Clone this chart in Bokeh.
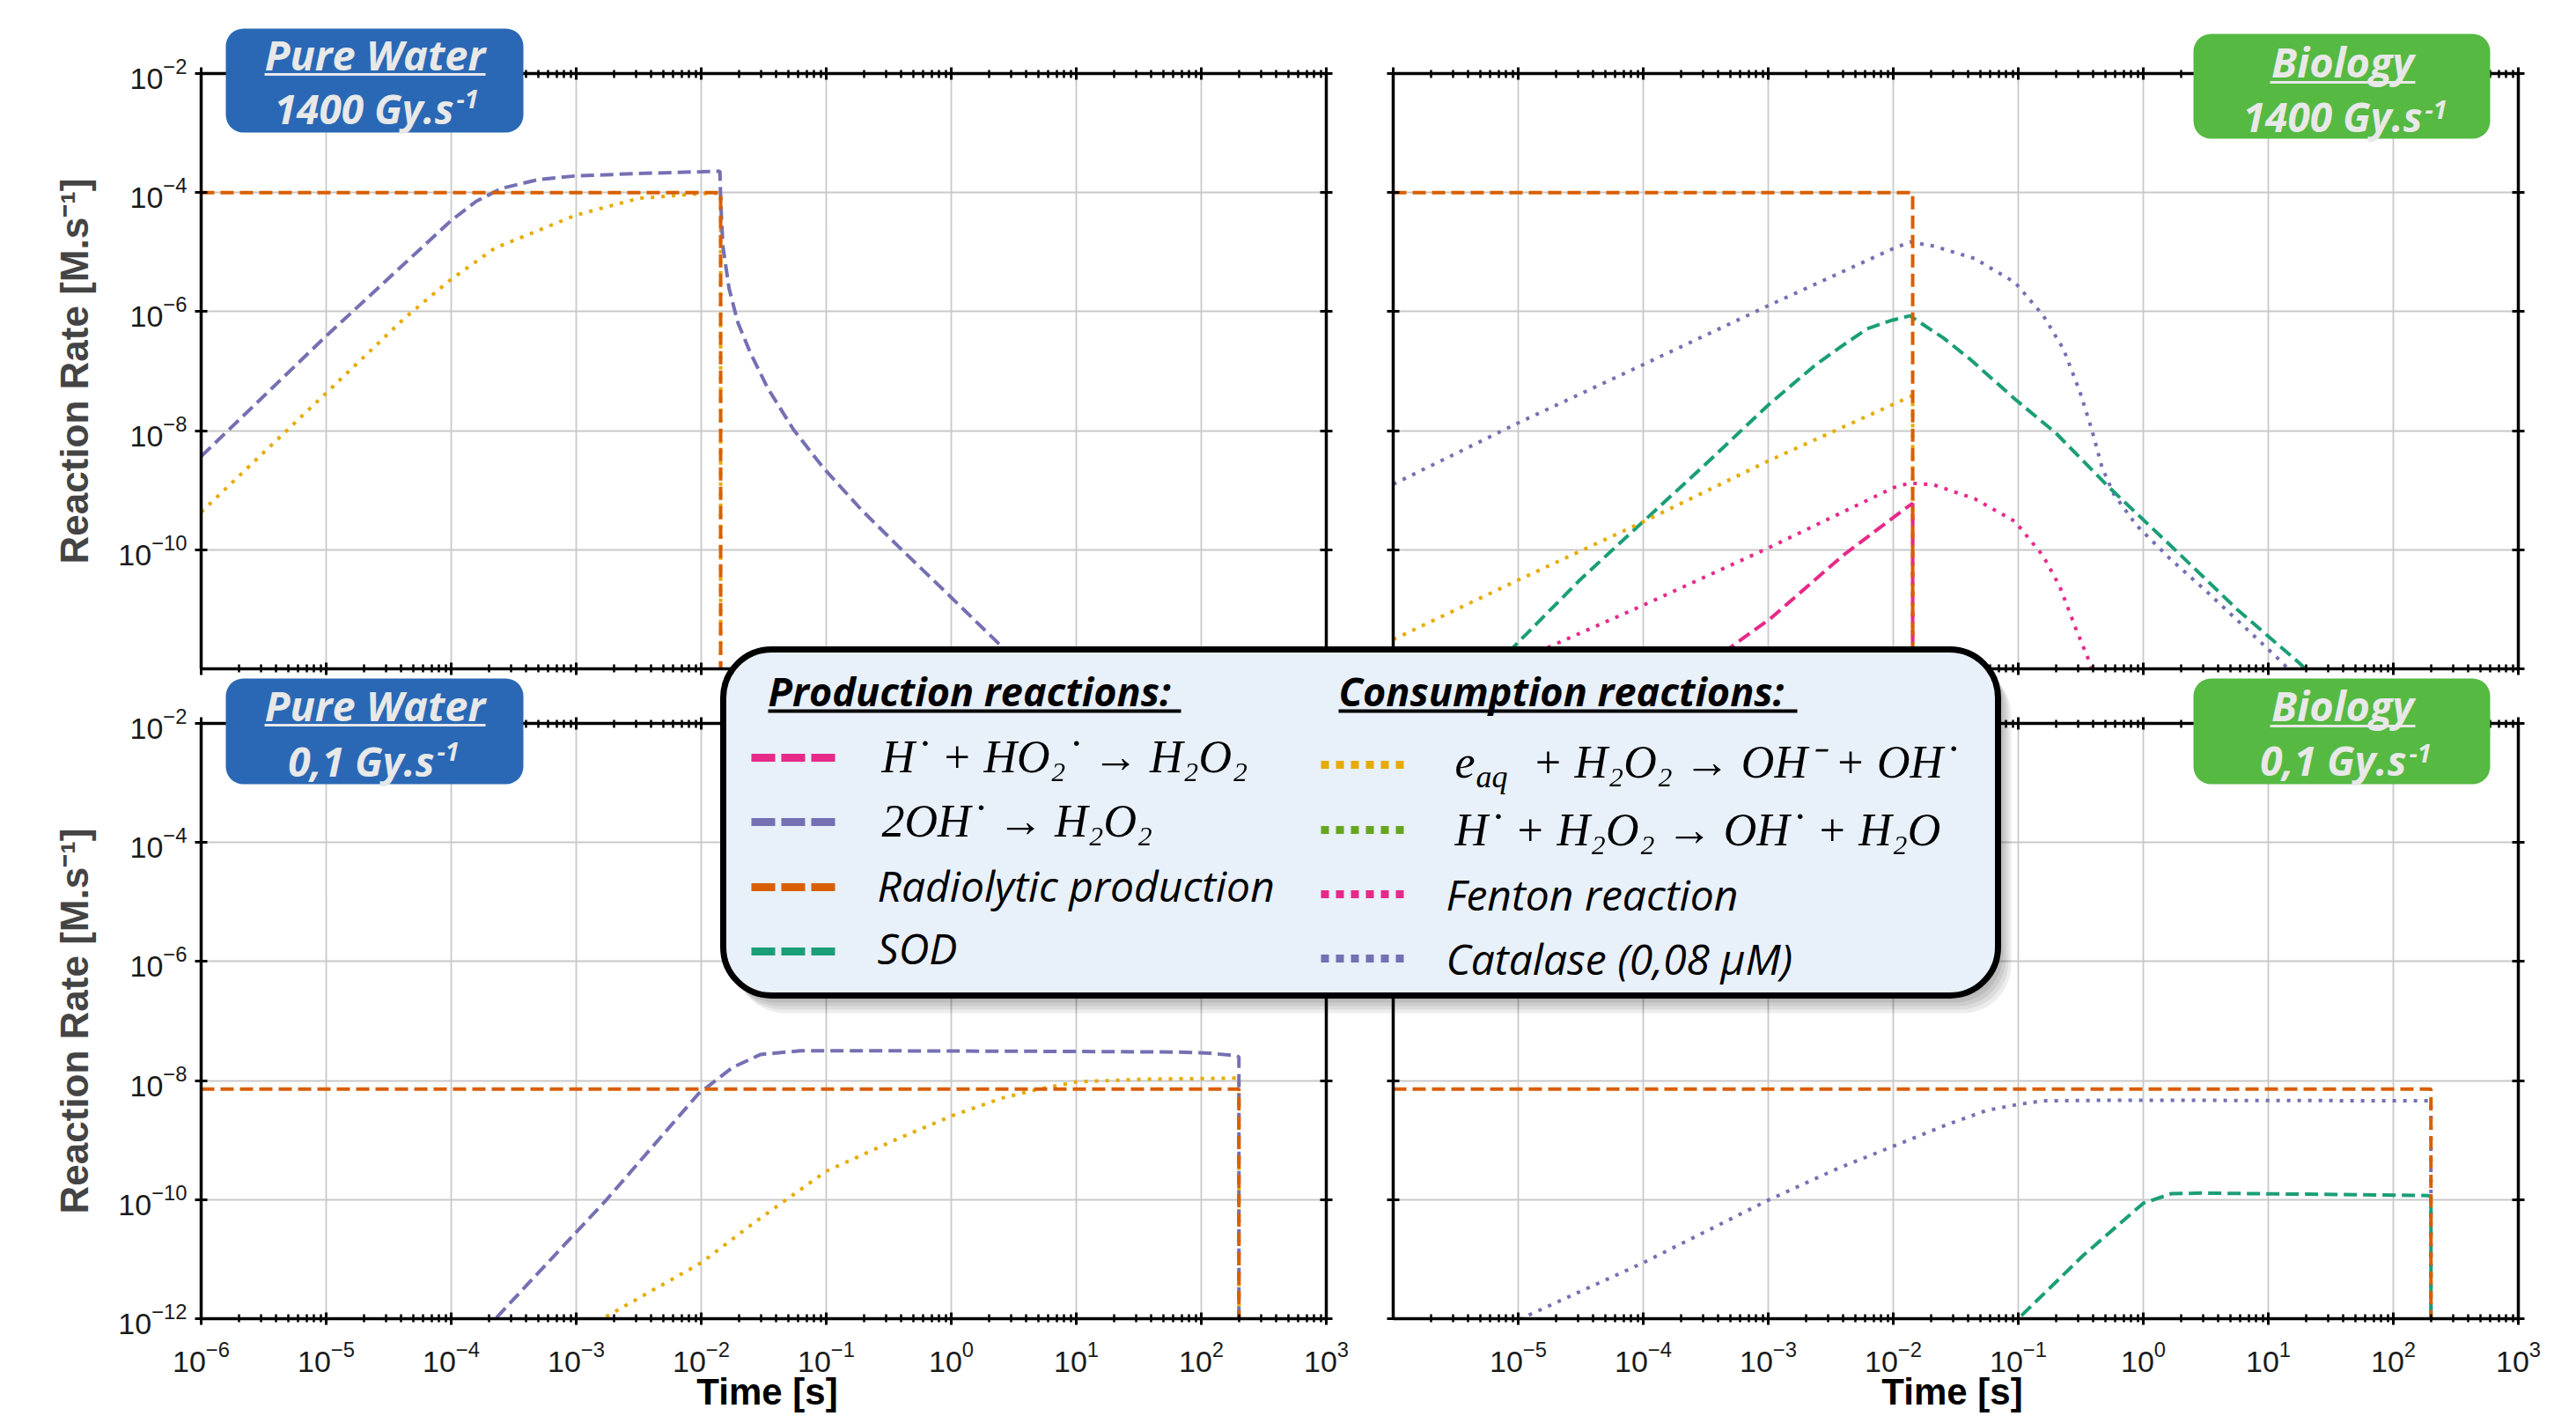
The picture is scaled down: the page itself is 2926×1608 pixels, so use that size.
from bokeh.plotting import figure
from bokeh.layouts import column
from bokeh.models import (Range1d, FixedTicker, LogAxis,
                          CustomJSTickFormatter, BoxAnnotation, Label)
from bokeh.embed import file_html
from bokeh.resources import INLINE

# ---------------- data (time [s], reaction rate [M/s]) ----------------
x_major = [1e-6, 1e-5, 1e-4, 1e-3, 1e-2, 1e-1, 1e0, 1e1, 1e2, 1e3]
y_major = [1e-12, 1e-10, 1e-8, 1e-6, 1e-4, 1e-2]

# Pure water, 1400 Gy/s
pw_hi_rad_t = [1e-6, 1.43e-2, 1.43e-2]
pw_hi_rad_r = [1.0e-4, 1.0e-4, 1e-14]
pw_hi_oh_t = [1e-6, 1e-5, 1e-4, 1.58e-4, 2.51e-4, 5.01e-4, 1e-3, 3.16e-3, 1e-2, 1.41e-2,
              1.435e-2, 1.49e-2, 1.67e-2, 1.96e-2, 2.48e-2, 3.40e-2, 5.46e-2, 9.44e-2,
              0.191, 0.389, 1.0, 2.57, 3.98, 10.0]
pw_hi_oh_r = [3.7e-9, 3.9e-7, 3.4e-5, 7.1e-5, 1.17e-4, 1.66e-4, 1.91e-4, 2.09e-4, 2.24e-4, 2.29e-4,
              6.3e-5, 1.26e-5, 2.45e-6, 6.6e-7, 2.0e-7, 5.2e-8, 1.05e-8, 2.4e-9,
              4.7e-10, 1.07e-10, 1.58e-11, 2.3e-12, 9.5e-13, 1.6e-13]
pw_hi_eaq_t = [1e-6, 1e-5, 4.27e-5, 1e-4, 2.24e-4, 1e-3, 3.16e-3, 1e-2, 1.43e-2, 1.43e-2]
pw_hi_eaq_r = [4.3e-10, 4.3e-8, 7.9e-7, 3.5e-6, 1.17e-5, 4.2e-5, 8.0e-5, 9.6e-5, 9.8e-5, 1e-14]

# Biology, 1400 Gy/s
bio_hi_rad_t = [1e-6, 1.43e-2, 1.43e-2]
bio_hi_rad_r = [1.0e-4, 1.0e-4, 1e-14]
bio_hi_cat_t = [1e-6, 1e-5, 1e-4, 1e-3, 1e-2, 1.36e-2, 2.12e-2, 4.47e-2, 9.4e-2, 0.158, 0.230,
                0.310, 0.387, 0.468, 0.583, 0.879, 1.60, 3.36, 7.08, 12.0, 20.0]
bio_hi_cat_r = [1.26e-9, 1.35e-8, 1.29e-7, 1.26e-6, 1.15e-5, 1.48e-5, 1.26e-5, 7.8e-6, 3.1e-6, 8.7e-7,
                2.34e-7, 4.6e-8, 1.05e-8, 2.4e-9, 8.5e-10, 2.6e-10, 7.4e-11, 1.82e-11, 4.2e-12,
                1.48e-12, 5e-13]
bio_hi_sod_t = [5.0e-6, 9.5e-6, 3.16e-5, 9.5e-5, 3.16e-4, 1e-3, 2.34e-3, 3.80e-3, 6.17e-3, 9.55e-3,
                1.36e-2, 2.51e-2, 4.07e-2, 9.4e-2, 0.2, 0.525, 1.86, 5.62, 17.4, 25.0]
bio_hi_sod_r = [6.5e-13, 2.5e-12, 3.2e-11, 2.7e-10, 2.75e-9, 2.7e-8, 1.23e-7, 2.57e-7, 5.13e-7, 7.08e-7,
                8.5e-7, 3.63e-7, 1.62e-7, 3.4e-8, 9.1e-9, 1.15e-9, 9.3e-11, 1.0e-11, 1.29e-12, 6.3e-13]
bio_hi_eaq_t = [1e-6, 1e-5, 1e-4, 1e-3, 1.43e-2, 1.43e-2]
bio_hi_eaq_r = [3.1e-12, 3.1e-11, 2.95e-10, 3.1e-9, 3.9e-8, 1e-14]
bio_hi_fen_t = [1e-6, 1.74e-5, 1e-4, 1e-3, 1e-2, 1.36e-2, 2.12e-2, 4.47e-2, 9.4e-2, 0.158,
                0.214, 0.288, 0.372, 0.417]
bio_hi_fen_r = [1.6e-13, 2.3e-12, 1.17e-11, 1.07e-10, 1.10e-9, 1.32e-9, 1.23e-9, 7.2e-10, 3.0e-10,
                7.9e-11, 2.45e-11, 4.8e-12, 1.29e-12, 6.3e-13]
bio_hi_hho2_t = [2e-4, 5.0e-4, 1.05e-3, 3.98e-3, 1.3e-2, 1.43e-2, 1.43e-2]
bio_hi_hho2_r = [4e-13, 2.3e-12, 7.1e-12, 8.1e-11, 5.25e-10, 6.0e-10, 1e-14]

# Pure water, 0.1 Gy/s
pw_lo_rad_t = [1e-6, 200.0, 200.0]
pw_lo_rad_r = [7.2e-9, 7.2e-9, 1e-14]
pw_lo_oh_t = [1.41e-4, 2.26e-4, 1.75e-3, 9.5e-3, 1.78e-2, 2.99e-2, 6.2e-2, 0.316, 9.1, 63.0,
              117.0, 186.0, 200.0, 200.0]
pw_lo_oh_r = [3.5e-13, 1e-12, 1e-10, 6.0e-9, 1.66e-8, 2.75e-8, 3.16e-8, 3.16e-8, 3.09e-8, 3.02e-8,
              2.88e-8, 2.63e-8, 2.5e-8, 1e-14]
pw_lo_eaq_t = [6.3e-4, 1.62e-3, 1e-2, 2.69e-2, 0.1, 0.372, 1.02, 2.57, 4.9, 10.0, 33.0, 190.0,
               200.0, 200.0]
pw_lo_eaq_r = [3.2e-13, 1e-12, 8.7e-12, 4.2e-11, 3.0e-10, 1.05e-9, 2.57e-9, 5.1e-9, 7.1e-9, 9.5e-9,
               1.05e-8, 1.1e-8, 1.1e-8, 1e-14]

# Biology, 0.1 Gy/s
bio_lo_rad_t = [1e-6, 200.0, 200.0]
bio_lo_rad_r = [7.2e-9, 7.2e-9, 1e-14]
bio_lo_cat_t = [5e-6, 1.05e-5, 1e-4, 1e-3, 3.39e-3, 1e-2, 2.69e-2, 5.6e-2, 0.1, 0.158, 0.69,
                190.0, 200.0, 200.0]
bio_lo_cat_r = [5e-13, 1e-12, 8.7e-12, 9.8e-11, 3.16e-10, 7.9e-10, 1.82e-9, 3.16e-9, 3.98e-9,
                4.57e-9, 4.68e-9, 4.57e-9, 4.5e-9, 1e-14]
bio_lo_sod_t = [0.063, 0.1, 0.33, 1.0, 1.68, 3.0, 190.0, 200.0, 200.0]
bio_lo_sod_r = [4e-13, 1e-12, 1.15e-11, 8.7e-11, 1.26e-10, 1.29e-10, 1.17e-10, 1.15e-10, 1e-14]

# ---------------- style ----------------
C_GREEN = "#1b9e77"
C_ORANGE = "#d95f02"
C_PURPLE = "#7570b3"
C_PINK = "#e7298a"
C_LIME = "#66a61e"
C_YELLOW = "#e6ab02"
DASH = "15 7"
DOT = "4 8"
LW = 4

W, H = 2926, 1608          # whole page
FW, FH = 1278, 676         # frame size of one panel
BL_, BR_, BT_, BB_ = 220, 50, 75, 103   # common borders of every panel figure
PW, PH = BL_ + FW + BR_, BT_ + FH + BB_

minor = [m * 10.0 ** k for k in range(-6, 3) for m in range(2, 10)]


def blank():
    return CustomJSTickFormatter(code="return ''")


def style_axis(ax, labels, is_x):
    ax.axis_line_width = 3.5
    ax.axis_line_color = "black"
    ax.major_tick_line_width = 3
    ax.major_tick_in = 7
    ax.major_tick_out = 7
    ax.minor_tick_line_width = 2.5
    ax.minor_tick_in = 5
    ax.minor_tick_out = 4
    ax.major_label_text_font = "Liberation Sans"
    ax.major_label_text_font_size = "34px"
    ax.major_label_text_color = "#1a1a1a"
    ax.major_label_standoff = 18 if is_x else 9
    if not labels:
        ax.formatter = blank()


def make_panel(ylab, xlab, ymaj, xmaj, series, margin):
    p = figure(width=PW, height=PH, x_axis_type="log", y_axis_type="log",
               x_range=Range1d(1e-6, 1e3), y_range=Range1d(1e-12, 1e-2),
               output_backend="svg", toolbar_location=None,
               min_border_left=BL_, min_border_right=BR_,
               min_border_top=BT_, min_border_bottom=BB_, margin=margin)
    p.border_fill_alpha = 0
    p.background_fill_color = "white"
    p.outline_line_color = "black"
    p.outline_line_width = 3
    p.xgrid.ticker = FixedTicker(ticks=x_major, minor_ticks=minor)
    p.ygrid.ticker = FixedTicker(ticks=y_major, minor_ticks=[])
    p.xgrid.grid_line_color = "#c9c9c9"
    p.ygrid.grid_line_color = "#c9c9c9"
    p.xgrid.grid_line_width = 1.8
    p.ygrid.grid_line_width = 1.8

    bx = p.xaxis[0]
    bx.ticker = FixedTicker(ticks=xmaj, minor_ticks=minor)
    style_axis(bx, xlab, True)
    ly = p.yaxis[0]
    ly.ticker = FixedTicker(ticks=ymaj, minor_ticks=[])
    style_axis(ly, ylab, False)
    if ylab:
        ly.axis_label = "Reaction Rate [M.s⁻¹]"
        ly.axis_label_text_font = "Liberation Sans"
        ly.axis_label_text_font_style = "bold"
        ly.axis_label_text_font_size = "44px"
        ly.axis_label_standoff = 22
    tx = LogAxis(ticker=FixedTicker(ticks=x_major, minor_ticks=minor))
    style_axis(tx, False, True)
    p.add_layout(tx, "above")
    ry = LogAxis(ticker=FixedTicker(ticks=y_major, minor_ticks=[]))
    style_axis(ry, False, False)
    p.add_layout(ry, "right")

    for t, r, color, dash in series:
        p.line(t, r, line_color=color, line_width=LW, line_dash=dash)
    return p


LEFT_X = 228 - BL_        # page x of left-hand figures
RIGHT_X = 1582 - BL_      # page x of right-hand figures
TOP_Y = 83 - BT_          # page y of upper figures
LOW_Y = 821 - BT_         # page y of lower figures

p_tl = make_panel(True, False, y_major[1:], x_major, [
    (pw_hi_eaq_t, pw_hi_eaq_r, C_YELLOW, DOT),
    (pw_hi_oh_t, pw_hi_oh_r, C_PURPLE, DASH),
    (pw_hi_rad_t, pw_hi_rad_r, C_ORANGE, DASH),
], (TOP_Y, 0, 0, LEFT_X))
p_tr = make_panel(False, False, y_major, x_major, [
    (bio_hi_cat_t, bio_hi_cat_r, C_PURPLE, DOT),
    (bio_hi_sod_t, bio_hi_sod_r, C_GREEN, DASH),
    (bio_hi_eaq_t, bio_hi_eaq_r, C_YELLOW, DOT),
    (bio_hi_fen_t, bio_hi_fen_r, C_PINK, DOT),
    (bio_hi_hho2_t, bio_hi_hho2_r, C_PINK, DASH),
    (bio_hi_rad_t, bio_hi_rad_r, C_ORANGE, DASH),
], (-PH, 0, 0, RIGHT_X))
p_bl = make_panel(True, True, y_major, x_major, [
    (pw_lo_eaq_t, pw_lo_eaq_r, C_YELLOW, DOT),
    (pw_lo_oh_t, pw_lo_oh_r, C_PURPLE, DASH),
    (pw_lo_rad_t, pw_lo_rad_r, C_ORANGE, DASH),
], (LOW_Y - (TOP_Y + PH), 0, 0, LEFT_X))
p_br = make_panel(False, True, y_major, x_major[1:], [
    (bio_lo_cat_t, bio_lo_cat_r, C_PURPLE, DOT),
    (bio_lo_sod_t, bio_lo_sod_r, C_GREEN, DASH),
    (bio_lo_rad_t, bio_lo_rad_r, C_ORANGE, DASH),
], (-PH, 0, 0, RIGHT_X))

# ---------------- overlay (labels, legend) ----------------
# left/right borders equal to the panels'; ranges chosen so that data units = page pixels
ov = figure(width=W, height=H, x_range=Range1d(BL_, W - BR_), y_range=Range1d(0, H),
            output_backend="svg", toolbar_location=None,
            min_border_left=BL_, min_border_right=BR_, min_border_top=0, min_border_bottom=0,
            x_axis_location=None, y_axis_location=None,
            margin=(-(LOW_Y + PH), 0, 0, 0))
ov.grid.visible = False
ov.outline_line_color = None
ov.background_fill_alpha = 0
ov.border_fill_alpha = 0


def Y(v):
    return H - v


def box(l, t, r, b, color, radius, alpha=1.0, line_color=None, line_width=0):
    ov.add_layout(BoxAnnotation(left=l, right=r, top=Y(t), bottom=Y(b),
                                fill_color=color, fill_alpha=alpha,
                                line_color=line_color, line_alpha=1.0, line_width=line_width,
                                border_radius=radius, level="underlay"))


def text(x, yc, s, size, font="Open Sans", style="italic", align="left", color="black"):
    # yc: vertical centre of the capitals
    ov.add_layout(Label(x=x, y=Y(yc), text=s, text_font=font, text_font_style=style,
                        text_font_size=f"{size}px", text_align=align,
                        text_baseline="alphabetic", text_color=color, level="overlay"))


BLUE = "#2a68b5"
GREENBOX = "#55b942"
LIGHT = "#e8e8e8"

# condition boxes
for (l, t, r, b, col, title, ux0, ux1, ty, uy, rate, rx, ry, sy) in [
    (256, 32, 594, 150, BLUE, "Pure Water", 300, 551, 61, 84, "1400 Gy.s", 515, 122, 112),
    (256, 770, 594, 890, BLUE, "Pure Water", 300, 551, 800, 823, "0,1 Gy.s", 493, 863, 853),
    (2491, 38, 2828, 157, GREENBOX, "Biology", 2578, 2743, 69, 93, "1400 Gy.s", 2751, 131, 124),
    (2491, 770, 2828, 890, GREENBOX, "Biology", 2578, 2743, 800, 824, "0,1 Gy.s", 2733, 862, 855),
]:
    box(l, t, r, b, col, 20)
    text((ux0 + ux1) / 2, ty, title, 47, style="bold italic", align="center", color=LIGHT)
    box(ux0, uy - 1.5, ux1, uy + 1.5, LIGHT, 0)
    text(rx, ry, rate, 46, style="bold italic", align="right", color=LIGHT)
    text(rx + 3, sy, "-1", 29, style="bold italic", align="left", color=LIGHT)

# legend shadow + box
for k in range(1, 6):
    box(821 + 3 * k, 737 + 4 * k, 2269 + 3 * k, 1130 + 4 * k, "black", 55, alpha=0.07)
box(821, 737, 2269, 1130, "#e8f0fa", 55, line_color="black", line_width=7)

text(872, 784, "Production reactions:", 45, style="bold italic")
box(872, 805, 1341, 809, "black", 0)
text(1520, 784, "Consumption reactions:", 45, style="bold italic")
box(1520, 805, 2041, 809, "black", 0)

# swatches (drawn above the legend box, which lives on the underlay level)
for y, col in [(860, C_PINK), (933, C_PURPLE), (1007, C_ORANGE), (1080, C_GREEN)]:
    ov.line([853, 948], [Y(y), Y(y)], line_color=col, line_width=9, line_dash="27 7")
for y, col in [(868, C_YELLOW), (942, C_LIME), (1015, C_PINK), (1088, C_PURPLE)]:
    ov.line([1500, 1596], [Y(y), Y(y)], line_color=col, line_width=9, line_dash="9 8")

SERIF = "Liberation Serif"
text(1001, 859, "H˙ + HO₂˙  →  H₂O₂", 52, font=SERIF)
text(1001, 932, "2OH˙  →  H₂O₂", 52, font=SERIF)
text(996, 1005, "Radiolytic production", 48)
text(996, 1076, "SOD", 48)

text(1652, 865, "e", 52, font=SERIF)
text(1676, 881, "aq", 36, font=SERIF)
text(1740, 865, "+ H₂O₂ → OH⁻ + OH˙", 52, font=SERIF)
text(1652, 942, "H˙ + H₂O₂ → OH˙ + H₂O", 52, font=SERIF)
text(1642, 1015, "Fenton reaction", 48)
text(1642, 1088, "Catalase (0,08 µM)", 48)

# x-axis titles
text(871, 1580, "Time [s]", 42, font="Liberation Sans", style="bold", align="center")
text(2217, 1580, "Time [s]", 42, font="Liberation Sans", style="bold", align="center")

layout = column(p_tl, p_tr, p_bl, p_br, ov, spacing=0)

open("out.html", "w").write(file_html(layout, INLINE))
